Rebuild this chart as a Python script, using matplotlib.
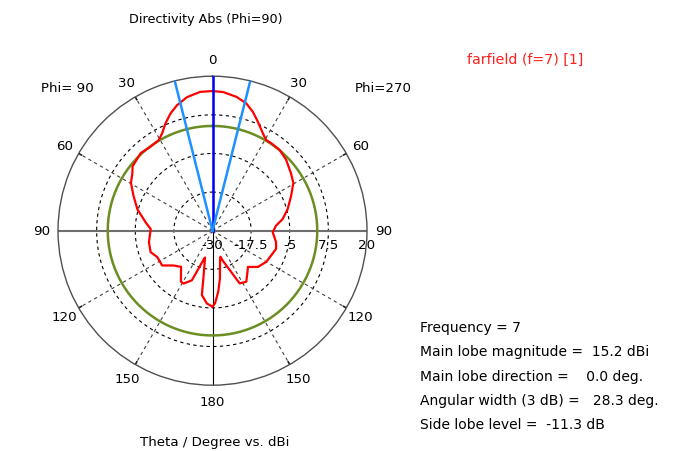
import numpy as np
import matplotlib.pyplot as plt

# ------------------------------------------------------------
# DATA  (Directivity Abs in dBi)
# ------------------------------------------------------------

# Phi=270 half (drawn on the right)
theta_phi270 = [0, 4.4, 10.2, 14.9, 18.8, 22.6, 27.3, 30.6, 33.8, 39.6,
                46.0, 53.6, 59.4, 66.2, 74.0, 80.6, 85.5, 91.5, 100.2, 105.9,
                112.9, 120.2, 128.6, 135.6, 141.7, 146.5, 152.7, 155.7, 161.2, 163.0,
                165.2, 171.2, 174.6, 178.0, 180]
dbi_phi270 = [15.2, 15.0, 14.0, 12.6, 10.6, 8.2, 5.5, 4.1, 4.1, 4.0,
              3.1, 1.5, 0.4, -2.2, -4.7, -7.0, -9.4, -10.5, -9.1, -8.6,
              -9.4, -9.9, -11.2, -13.6, -11.9, -10.2, -10.8, -15.4, -19.8, -21.2,
              -20.4, -14.3, -10.2, -6.5, -5.4]

# Phi=90 half (drawn on the left)
theta_phi90 = [0, 5.1, 10.8, 15.8, 19.7, 23.7, 27.3, 30.6, 36.3, 42.8,
               47.9, 51.2, 54.1, 59.6, 66.3, 74.0, 82.9, 88.4, 100.2, 109.1,
               115.5, 124.6, 131.8, 139.0, 148.2, 151.3, 157.4, 163.3, 164.5, 169.2,
               170.6, 175.5, 180]
dbi_phi90 = [15.2, 15.1, 14.0, 12.2, 10.3, 7.9, 5.5, 4.1, 3.8, 4.2,
             3.5, 3.2, 2.0, 0.6, -2.1, -4.7, -8.2, -10.0, -9.1, -8.8,
             -10.2, -10.2, -13.1, -14.5, -10.6, -10.5, -12.6, -20.5, -21.0, -14.2,
             -8.9, -6.4, -5.4]

main_lobe_dir = 0.0
beam_width = 28.3
side_lobe_dbi = 15.2 - 11.3

r_min, r_max = -30, 20
rings = [-17.5, -5, 7.5]
ring_labels = ['-30', '-17.5', '-5', '7.5', '20']
ring_label_pos = [-30, -17.5, -5, 7.5, 20]
spokes = [30, 60, 120, 150]
angle_labels = [0, 30, 60, 90, 120, 150, 180]

info_lines = [
    "Frequency = 7",
    "Main lobe magnitude =  15.2 dBi",
    "Main lobe direction =    0.0 deg.",
    "Angular width (3 dB) =   28.3 deg.",
    "Side lobe level =  -11.3 dB",
]

# ------------------------------------------------------------
# PLOT
# ------------------------------------------------------------

plt.rcParams['font.family'] = ['DejaVu Sans']
FS = 9.6

fig = plt.figure(figsize=(6.74, 4.52), dpi=100)
ax = fig.add_axes([58 / 674, 65.8 / 452, 309 / 674, 309 / 452], projection='polar')
ax.set_theta_zero_location('N')
ax.set_theta_direction(-1)
ax.set_rlim(r_min, r_max)
ax.grid(False)
ax.set_xticks([])
ax.set_yticks([])
ax.spines['polar'].set_color('#505050')
ax.spines['polar'].set_linewidth(1.0)

full = np.linspace(0, 2 * np.pi, 361)

# dashed rings
for rv in rings:
    ax.plot(full, np.full_like(full, rv), color='black', lw=0.8,
            ls=(0, (3, 3)), zorder=1)

# dashed spokes + small ticks on the outer circle
for a in spokes:
    for s in (1, -1):
        t = np.deg2rad(s * a)
        ax.plot([t, t], [r_min, r_max], color='#404040', lw=0.8,
                ls=(0, (3, 3)), zorder=1)
        ax.plot([t, t], [r_max - 1.0, r_max], color='#202020', lw=1.2, zorder=2)

# solid axis lines
ax.plot([0, np.pi], [r_max, r_max], color='black', lw=0.8, zorder=1)
ax.plot([0, 0], [r_min, r_max], color='black', lw=0.8, zorder=1)
ax.plot([np.pi / 2, np.pi / 2], [r_min, r_max], color='#6e6e6e', lw=1.5, zorder=1)
ax.plot([-np.pi / 2, -np.pi / 2], [r_min, r_max], color='#6e6e6e', lw=1.5, zorder=1)

# side lobe level circle
ax.plot(full, np.full_like(full, side_lobe_dbi), color='#6b8e23', lw=1.8, zorder=3)

# directivity curve: Phi=90 on the left, Phi=270 on the right
t_left = -np.deg2rad(np.array(theta_phi90))[::-1]
r_left = np.array(dbi_phi90)[::-1]
t_right = np.deg2rad(np.array(theta_phi270))
r_right = np.array(dbi_phi270)
ax.plot(np.concatenate([t_left, t_right]), np.concatenate([r_left, r_right]),
        color='#ff0000', lw=1.6, zorder=4)

# main lobe direction and 3 dB width
ax.plot([np.deg2rad(main_lobe_dir)] * 2, [r_min, r_max], color='#0000ff',
        lw=1.8, zorder=5)
for s in (1, -1):
    t = np.deg2rad(main_lobe_dir + s * beam_width / 2)
    ax.plot([t, t], [r_min, r_max], color='#1e90ff', lw=1.8, zorder=5)

# angle labels
r_lab = 25.4
for a in angle_labels:
    sides = (1,) if a in (0, 180) else (1, -1)
    for s in sides:
        ax.text(np.deg2rad(s * a), r_lab, str(a), ha='center', va='center',
                fontsize=FS, clip_on=False)

# radial labels along the right horizontal axis
for lab, rv in zip(ring_labels, ring_label_pos):
    ax.annotate(lab, xy=(np.pi / 2, rv), xytext=(0, -5.5),
                textcoords='offset points', ha='center', va='top',
                fontsize=FS, annotation_clip=False)

fig.text(206 / 674, 1 - 19 / 452, "Directivity Abs (Phi=90)", ha='center',
         va='center', fontsize=9.2)
fig.text(67 / 674, 1 - 88 / 452, "Phi= 90", ha='center', va='center', fontsize=FS)
fig.text(383 / 674, 1 - 88 / 452, "Phi=270", ha='center', va='center', fontsize=FS)
fig.text(525 / 674, 1 - 60 / 452, "farfield (f=7) [1]", ha='center', va='center',
         fontsize=10.2, color='#ff2020')
fig.text(215 / 674, 1 - 443 / 452, "Theta / Degree vs. dBi", ha='center',
         va='center', fontsize=FS)

for i, line in enumerate(info_lines):
    fig.text(420 / 674, 1 - (328 + i * 24.3) / 452, line, ha='left', va='center',
             fontsize=10.0)

fig.savefig('out.png', dpi=100)
